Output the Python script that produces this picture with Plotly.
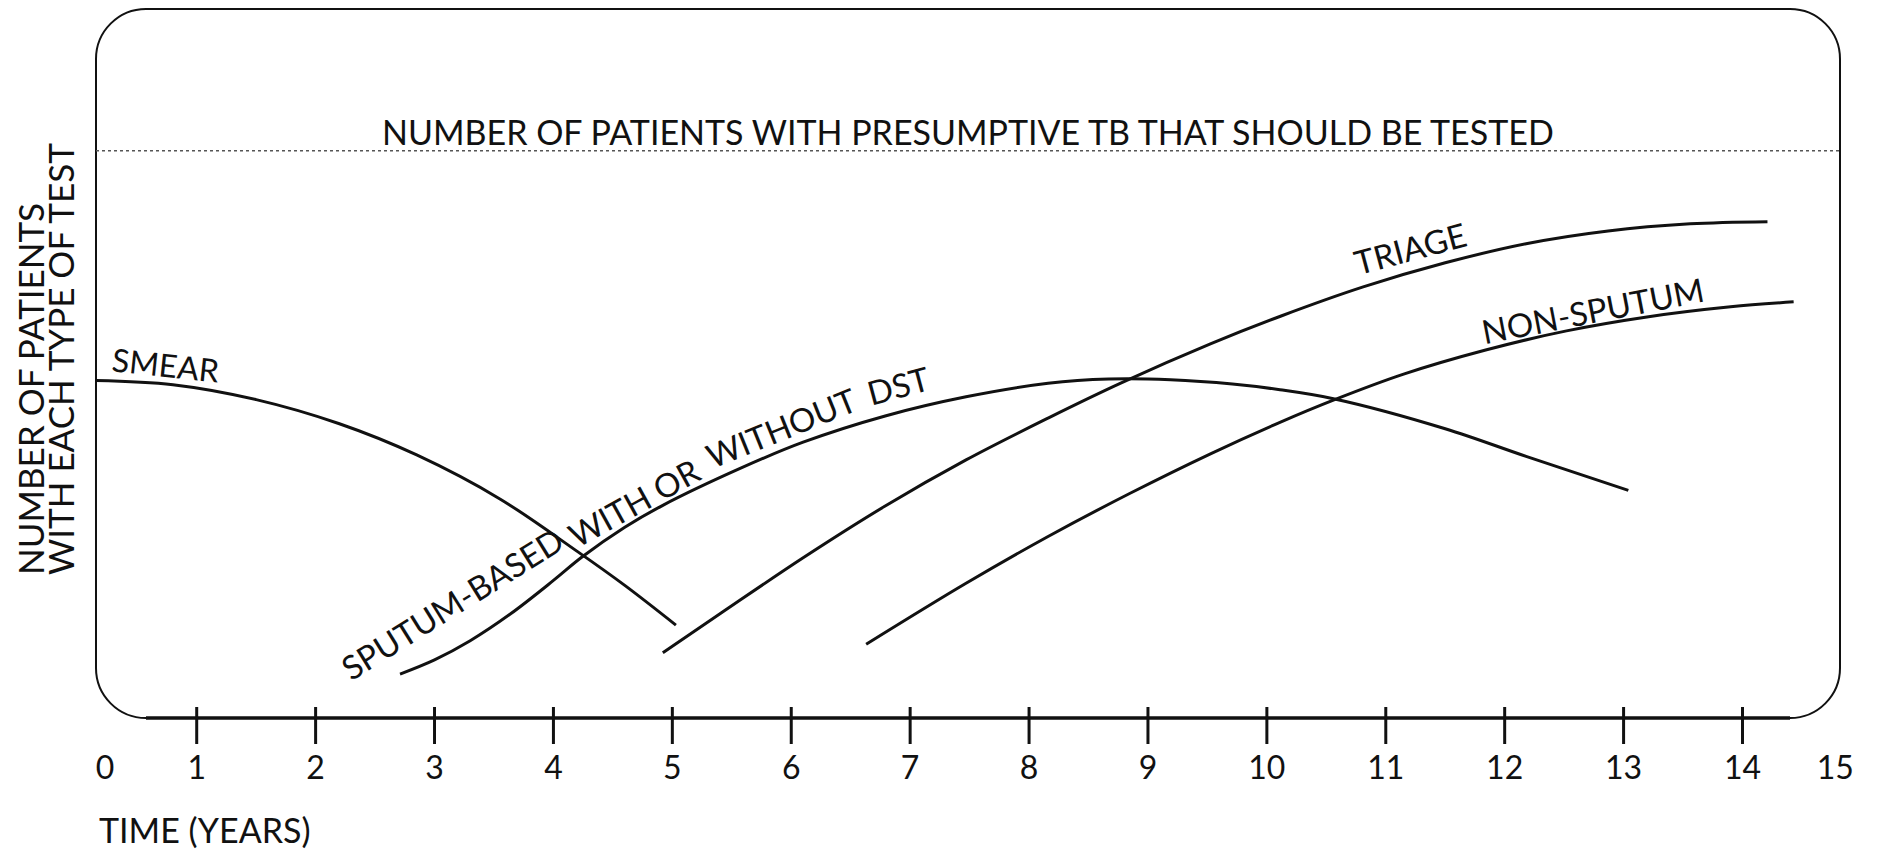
import plotly.graph_objects as go

# ---------------- data ----------------
tick_years = list(range(1, 15))
tick_labels = [str(i) for i in range(16)]

smear_x = [0.15, 0.8, 1.5, 2.2, 2.85, 3.55, 4.2, 4.6, 5.03]
smear_y = [47.6, 47.0, 44.9, 41.5, 37.1, 30.9, 23.5, 18.7, 13.1]

sputum_x = [2.71, 3.0, 3.3, 3.64, 4.0, 4.24, 4.6, 4.92, 5.57, 6.10, 6.79, 7.47, 8.16, 8.67, 9.19, 9.71, 10.11, 10.57, 11.5, 12.18, 13.04]
sputum_y = [6.2, 8.2, 10.9, 14.7, 19.4, 22.7, 26.9, 30.0, 35.2, 38.9, 42.6, 45.3, 47.2, 47.8, 47.7, 47.1, 46.3, 45.0, 40.8, 36.9, 32.1]

triage_x = [4.92, 5.41, 6.10, 6.79, 7.47, 8.16, 8.78, 9.53, 10.12, 10.81, 11.5, 12.18, 12.87, 13.56, 14.21]
triage_y = [9.2, 14.8, 22.6, 29.9, 36.4, 42.3, 47.3, 52.8, 56.7, 60.8, 64.2, 66.9, 68.7, 69.7, 70.0]

nonsputum_x = [6.63, 7.47, 8.16, 8.85, 9.53, 10.11, 10.57, 11.15, 11.84, 12.52, 13.21, 13.9, 14.43]
nonsputum_y = [10.4, 19.0, 25.6, 31.7, 37.3, 41.7, 44.9, 48.5, 51.9, 54.6, 56.6, 58.0, 58.7]

target_level = 80
target_label = "NUMBER OF PATIENTS WITH PRESUMPTIVE TB THAT SHOULD BE TESTED"

# ---------------- layout geometry ----------------
# page has an 8px body margin, so the figure is sized/offset to compensate
OFF = 8
W, H = 1876, 841
ML, MT = 88, 1
PW, PH = 1744, 709
MR, MB = W - ML - PW, H - MT - PH
PAGE_L, PAGE_B = ML + OFF, MT + OFF + PH      # page px of plot left / bottom


def px_x(page_x):
    return (page_x - PAGE_L) / PW


def px_y(page_y):
    return (PAGE_B - page_y) / PH


x_range = [0.153, 14.82]
y_range = [0, 100]
FONT = "Lato, 'Open Sans', 'DejaVu Sans', sans-serif"
INK = "#111111"

fig = go.Figure()

for xs, ys in [(smear_x, smear_y), (sputum_x, sputum_y), (triage_x, triage_y), (nonsputum_x, nonsputum_y)]:
    fig.add_trace(go.Scatter(
        x=xs, y=ys, mode="lines",
        line=dict(color=INK, width=3, shape="spline", smoothing=1.0),
        hoverinfo="skip", showlegend=False,
    ))

# rounded frame (paper coordinates)
r = 50
rx, ry = r / PW, r / PH
k = 0.5523
path = (
    f"M {rx},1 L {1-rx},1 "
    f"C {1-rx+k*rx},1 1,{1-ry+k*ry} 1,{1-ry} "
    f"L 1,{ry} "
    f"C 1,{ry-k*ry} {1-rx+k*rx},0 {1-rx},0 "
    f"L {rx},0 "
    f"C {rx-k*rx},0 0,{ry-k*ry} 0,{ry} "
    f"L 0,{1-ry} "
    f"C 0,{1-ry+k*ry} {rx-k*rx},1 {rx},1 Z"
)
shapes = [
    dict(type="path", xref="paper", yref="paper", path=path,
         line=dict(color=INK, width=2), layer="above"),
    dict(type="line", xref="paper", yref="paper", x0=rx, x1=1 - rx, y0=0, y1=0,
         line=dict(color=INK, width=3.5), layer="above"),
    dict(type="line", xref="paper", yref="y", x0=0, x1=1, y0=target_level, y1=target_level,
         line=dict(color="#555555", width=1.6, dash="dot"), layer="above"),
]
for t in tick_years:
    shapes.append(dict(type="line", xref="x", yref="paper", x0=t, x1=t,
                       y0=-26 / PH, y1=11 / PH, line=dict(color=INK, width=3)))

tick_pos = [x_range[0] + 0.075] + tick_years + [x_range[1] - 0.04]

annotations = [
    dict(text=target_label, xref="paper", yref="paper", x=0.5, y=px_y(132),
         xanchor="center", yanchor="middle", showarrow=False, font=dict(size=34, color=INK, family=FONT)),
    dict(text="TIME (YEARS)", xref="paper", yref="paper", x=px_x(97), y=px_y(829),
         xanchor="left", yanchor="middle", showarrow=False, font=dict(size=34, color=INK, family=FONT)),
    dict(text="NUMBER OF PATIENTS", xref="paper", yref="paper", x=px_x(30), y=px_y(576),
         xanchor="center", yanchor="bottom", textangle=-90, showarrow=False, borderpad=0,
         font=dict(size=35, color=INK, family=FONT)),
    dict(text="WITH EACH TYPE OF TEST", xref="paper", yref="paper", x=px_x(60), y=px_y(576),
         xanchor="center", yanchor="bottom", textangle=-90, showarrow=False, borderpad=0,
         font=dict(size=35, color=INK, family=FONT)),
]

curve_labels = [
    ("SMEAR", 0.74, 49.9, 6, 32),
    ("SPUTUM-BASED", 3.15, 16.2, -32, 33),
    ("WITH OR", 4.68, 30.4, -29, 33),
    ("WITHOUT", 5.92, 41.0, -22, 33),
    ("DST", 6.90, 46.9, -15, 33),
    ("TRIAGE", 11.2, 66.3, -15, 33),
    ("NON-SPUTUM", 12.74, 57.5, -11, 33),
]
for txt, lx, ly, ang, fs in curve_labels:
    annotations.append(dict(text=txt, x=lx, y=ly, xref="x", yref="y", textangle=ang,
                            showarrow=False, xanchor="center", yanchor="middle",
                            font=dict(size=fs, color=INK, family=FONT)))

fig.update_layout(
    width=W, height=H, autosize=False,
    margin=dict(l=ML, r=MR, t=MT, b=MB, pad=0),
    paper_bgcolor="white", plot_bgcolor="white",
    xaxis=dict(range=x_range, showgrid=False, zeroline=False, showline=False,
               tickmode="array", tickvals=tick_pos, ticktext=tick_labels,
               ticks="", ticklabelstandoff=28,
               tickfont=dict(size=32, color=INK, family=FONT), fixedrange=True),
    yaxis=dict(range=y_range, showgrid=False, zeroline=False, showline=False,
               showticklabels=False, ticks="", fixedrange=True),
    shapes=shapes,
    annotations=annotations,
    showlegend=False,
)

fig.write_html("out.html", config={"displayModeBar": False})
